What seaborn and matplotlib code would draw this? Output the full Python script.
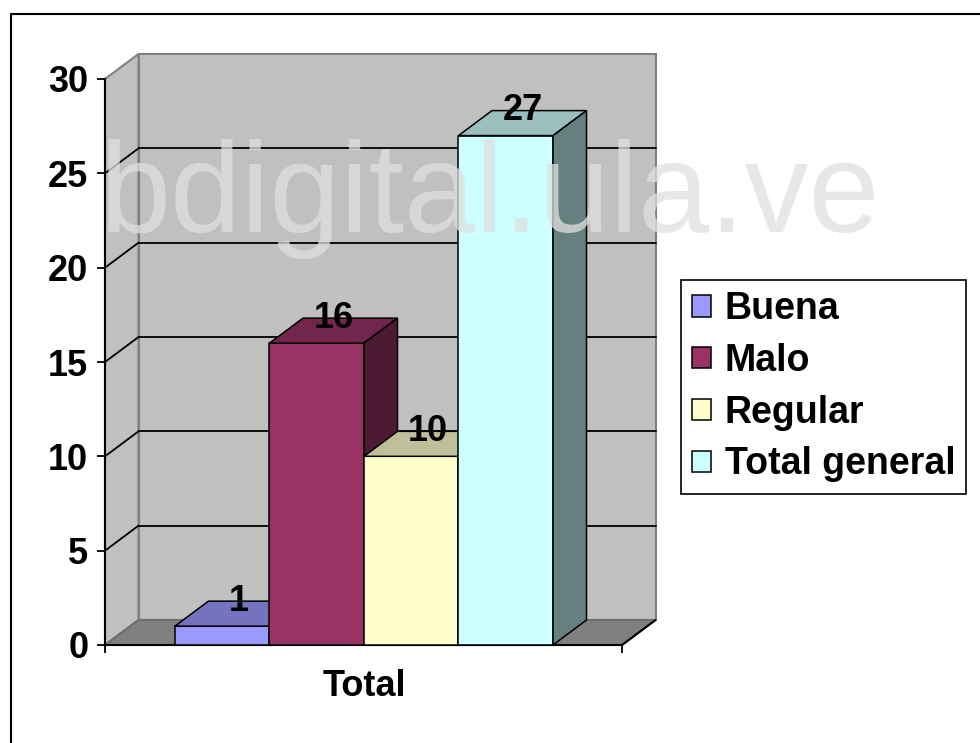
import matplotlib
matplotlib.use("Agg")
import matplotlib.pyplot as plt
import seaborn as sns
import pandas as pd
from matplotlib.patches import Polygon, Patch
from matplotlib.lines import Line2D

# data
grupo = ["Total"]
series = ["Buena", "Malo", "Regular", "Total general"]
valores = [1, 16, 10, 27]
colores = ["#9999FF", "#993366", "#FFFFCC", "#CCFFFF"]
y_ticks = [0, 5, 10, 15, 20, 25, 30]

df = pd.DataFrame({"grupo": grupo * len(series), "serie": series, "valor": valores})

sns.set_theme(style="white")
plt.rcParams["font.family"] = ["Liberation Sans", "DejaVu Sans"]
plt.rcParams["font.weight"] = "bold"

fig = plt.figure(figsize=(9.8, 7.43), dpi=100)
ax = fig.add_axes([105 / 980, 98 / 743, 517 / 980, 566 / 743])

x0, x1 = -0.548, 0.546
ymax = 30
dx, dy = 0.0709, 1.325   # depth offset of the fake 3d look


def shade(hexcol, f):
    r, g, b = matplotlib.colors.to_rgb(hexcol)
    return (r * f, g * f, b * f)


# walls and floor
ax.add_patch(Polygon([(x0 + dx, dy), (x1 + dx, dy), (x1 + dx, ymax + dy), (x0 + dx, ymax + dy)],
                     fc="#C0C0C0", ec="#808080", lw=1.5, zorder=0.1, clip_on=False))
ax.add_patch(Polygon([(x0, 0), (x0 + dx, dy), (x0 + dx, ymax + dy), (x0, ymax)],
                     fc="#C0C0C0", ec="#808080", lw=1.5, zorder=0.2, clip_on=False))
ax.add_patch(Polygon([(x0, 0), (x1, 0), (x1 + dx, dy), (x0 + dx, dy)],
                     fc="#808080", ec="#6E6E6E", lw=1.5, zorder=0.3, clip_on=False))
ax.plot([x1, x1 + dx], [0, dy], color="black", lw=1.5, zorder=0.35, clip_on=False)

# gridlines on back wall and side wall
for v in y_ticks[1:-1]:
    ax.plot([x0 + dx, x1 + dx], [v + dy, v + dy], color="black", lw=1.3, zorder=0.4, clip_on=False)
    ax.plot([x0, x0 + dx], [v, v + dy], color="black", lw=1.3, zorder=0.4, clip_on=False)

sns.barplot(data=df, x="grupo", y="valor", hue="serie", palette=colores, saturation=1,
            edgecolor="black", linewidth=1.1, legend=False, ax=ax)

bars = [c[0] for c in ax.containers]
for i, (p, col, v) in enumerate(zip(bars, colores, valores)):
    z = 2 + i
    p.set_zorder(z)
    bx, bw, h = p.get_x(), p.get_width(), p.get_height()
    top = [(bx, h), (bx + bw, h), (bx + bw + dx, h + dy), (bx + dx, h + dy)]
    side = [(bx + bw, 0), (bx + bw + dx, dy), (bx + bw + dx, h + dy), (bx + bw, h)]
    ax.add_patch(Polygon(top, fc=shade(col, 0.75), ec="black", lw=1.1, zorder=z, clip_on=False))
    ax.add_patch(Polygon(side, fc=shade(col, 0.5), ec="black", lw=1.1, zorder=z, clip_on=False))
    ax.text(bx + bw / 2 + dx / 2, h + dy, str(v), ha="center", va="center",
            fontsize=26, fontweight="bold", color="black", zorder=20, clip_on=False)

ax.set_xlim(x0, x1)
ax.set_ylim(0, ymax)
ax.set_facecolor("none")
ax.set_xlabel("")
ax.set_ylabel("")
for s in ["top", "right"]:
    ax.spines[s].set_visible(False)
for s in ["left", "bottom"]:
    ax.spines[s].set_color("black")
    ax.spines[s].set_linewidth(1.5)
    ax.spines[s].set_zorder(1.5)

ax.set_yticks(y_ticks)
ax.tick_params(axis="y", direction="out", length=6, width=1.3, color="black",
               labelsize=26, pad=6, left=True)
ax.set_xticks([0])
ax.set_xticklabels(grupo)
ax.set_xticks([x0, x1], minor=True)
ax.tick_params(axis="x", which="major", length=0, labelsize=26, pad=17)
ax.tick_params(axis="x", which="minor", direction="out", length=6, width=1.3,
               color="black", bottom=True)
for lab in ax.get_xticklabels() + ax.get_yticklabels():
    lab.set_fontweight("bold")
    lab.set_color("black")

# legend
handles = [Patch(fc=c, ec="black", lw=1.1) for c in colores]
leg = fig.legend(handles, series, loc="upper left", bbox_to_anchor=(681 / 980, 1 - 280 / 743),
                 frameon=True, fancybox=False, framealpha=1, edgecolor="black",
                 prop={"size": 27, "weight": "bold"}, handlelength=0.5, handleheight=0.5,
                 handletextpad=0.36, labelspacing=0.42, borderpad=0.3, borderaxespad=0)
leg.get_frame().set_linewidth(1.2)
for t in leg.get_texts():
    t.set_color("black")

# watermark
fig.text(490 / 980, 1 - 232 / 743, "bdigital.ula.ve", ha="center", va="baseline",
         fontsize=92, fontweight="normal", color="#E0E0E0", alpha=0.75, zorder=30)

# outer frame (top and left edges)
fig.add_artist(Line2D([10.5 / 980, 1], [1 - 14 / 743, 1 - 14 / 743], color="black", lw=1.5))
fig.add_artist(Line2D([10.5 / 980, 10.5 / 980], [0, 1 - 14 / 743], color="black", lw=1.5))

fig.savefig("out.png", dpi=100, facecolor="white")
